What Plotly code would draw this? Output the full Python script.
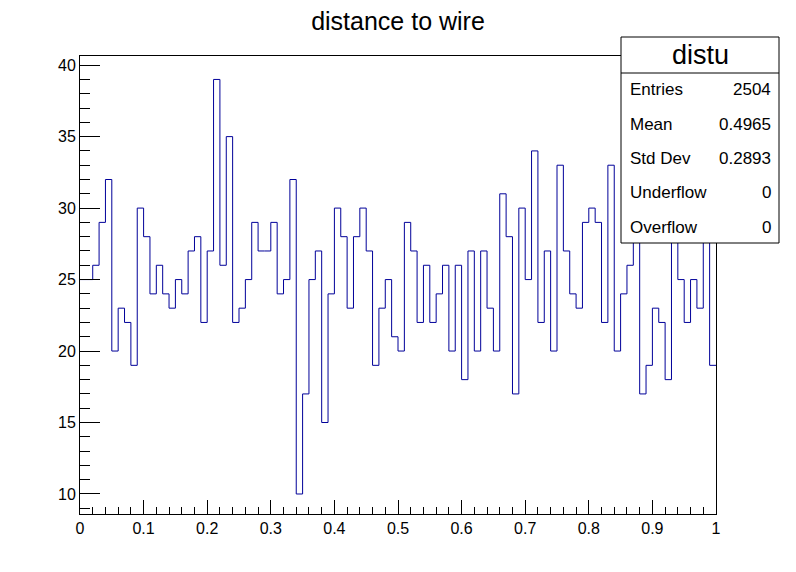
import plotly.graph_objects as go

# ---- data ----
n_bins = 100
x_min, x_max = 0.0, 1.0
counts = [
    25, 25, 26, 29, 32, 20, 23, 22, 19, 30,
    28, 24, 26, 24, 23, 25, 24, 27, 28, 22,
    27, 39, 26, 35, 22, 23, 25, 29, 27, 27,
    29, 24, 25, 32, 10, 17, 25, 27, 15, 24,
    30, 28, 23, 28, 30, 27, 19, 23, 25, 21,
    20, 29, 27, 22, 26, 22, 24, 26, 20, 26,
    18, 27, 20, 27, 23, 20, 31, 28, 17, 30,
    25, 34, 22, 27, 20, 33, 27, 24, 23, 29,
    30, 29, 22, 33, 20, 24, 26, 30, 17, 19,
    23, 22, 18, 31, 25, 22, 25, 23, 35, 19,
]
x_tick_vals = [0, 0.1, 0.2, 0.3, 0.4, 0.5, 0.6, 0.7, 0.8, 0.9, 1.0]
x_tick_text = ["0", "0.1", "0.2", "0.3", "0.4", "0.5", "0.6", "0.7", "0.8", "0.9", "1"]
y_tick_vals = [10, 15, 20, 25, 30, 35, 40]
title_text = "distance to wire"
stats_name = "distu"
stat_labels = ["Entries", "Mean", "Std Dev", "Underflow", "Overflow"]
stat_values = ["2504", "0.4965", "0.2893", "0", "0"]

# ---- build ----
width = (x_max - x_min) / n_bins
edges = [x_min + i * width for i in range(n_bins + 1)]
ys = counts + [counts[-1]]

FONT = "Liberation Sans, Arial, Helvetica, sans-serif"
W, H = 796, 572
L, R, T, B = 80, 80, 56, 58
pw, ph = W - L - R, H - T - B

def px(xp):
    return (xp - L) / pw

def py(yp):
    return (H - B - yp) / ph

fig = go.Figure()
fig.add_trace(go.Scatter(
    x=edges, y=ys, mode="lines", line=dict(shape="hv", color="#000099", width=1),
    hoverinfo="skip", showlegend=False,
))

shapes = [
    dict(type="rect", xref="paper", yref="paper", x0=px(621), x1=px(779), y0=py(243), y1=py(37),
         line=dict(color="black", width=1), fillcolor="white", layer="above"),
    dict(type="line", xref="paper", yref="paper", x0=px(621), x1=px(779), y0=py(73), y1=py(73),
         line=dict(color="black", width=1), layer="above"),
]

annotations = [
    dict(text=stats_name, xref="paper", yref="paper", x=px(700), y=py(55), showarrow=False,
         xanchor="center", yanchor="middle", font=dict(family=FONT, size=27, color="black")),
]
row_y = [90, 124, 158, 192, 227]
for lab, val, ry in zip(stat_labels, stat_values, row_y):
    annotations.append(dict(text=lab, xref="paper", yref="paper", x=px(628), y=py(ry), showarrow=False,
                            xanchor="left", yanchor="middle", font=dict(family=FONT, size=17, color="black")))
    annotations.append(dict(text=val, xref="paper", yref="paper", x=px(773), y=py(ry), showarrow=False,
                            xanchor="right", yanchor="middle", font=dict(family=FONT, size=17, color="black")))

fig.update_layout(
    width=W, height=H,
    margin=dict(l=L, r=R, t=T, b=B, pad=0),
    paper_bgcolor="white", plot_bgcolor="white",
    title=dict(text=title_text, x=0.5, xref="container", xanchor="center",
               y=1 - 21 / H, yref="container", yanchor="middle",
               font=dict(family=FONT, size=25, color="black")),
    shapes=shapes, annotations=annotations,
    xaxis=dict(range=[x_min, x_max], tickvals=x_tick_vals, ticktext=x_tick_text,
               ticks="inside", ticklen=14, tickcolor="black", tickwidth=1,
               minor=dict(dtick=0.02, ticks="inside", ticklen=7, tickcolor="black", tickwidth=1),
               showline=True, linecolor="black", linewidth=1, mirror=True,
               showgrid=False, zeroline=False,
               tickfont=dict(family=FONT, size=16, color="black")),
    yaxis=dict(range=[8.6, 40.64], tickvals=y_tick_vals,
               ticks="inside", ticklen=20, tickcolor="black", tickwidth=1,
               minor=dict(dtick=1, tick0=0, ticks="inside", ticklen=10, tickcolor="black", tickwidth=1),
               showline=True, linecolor="black", linewidth=1, mirror=True,
               showgrid=False, zeroline=False,
               tickfont=dict(family=FONT, size=16, color="black")),
)

fig.write_html("out.html")
